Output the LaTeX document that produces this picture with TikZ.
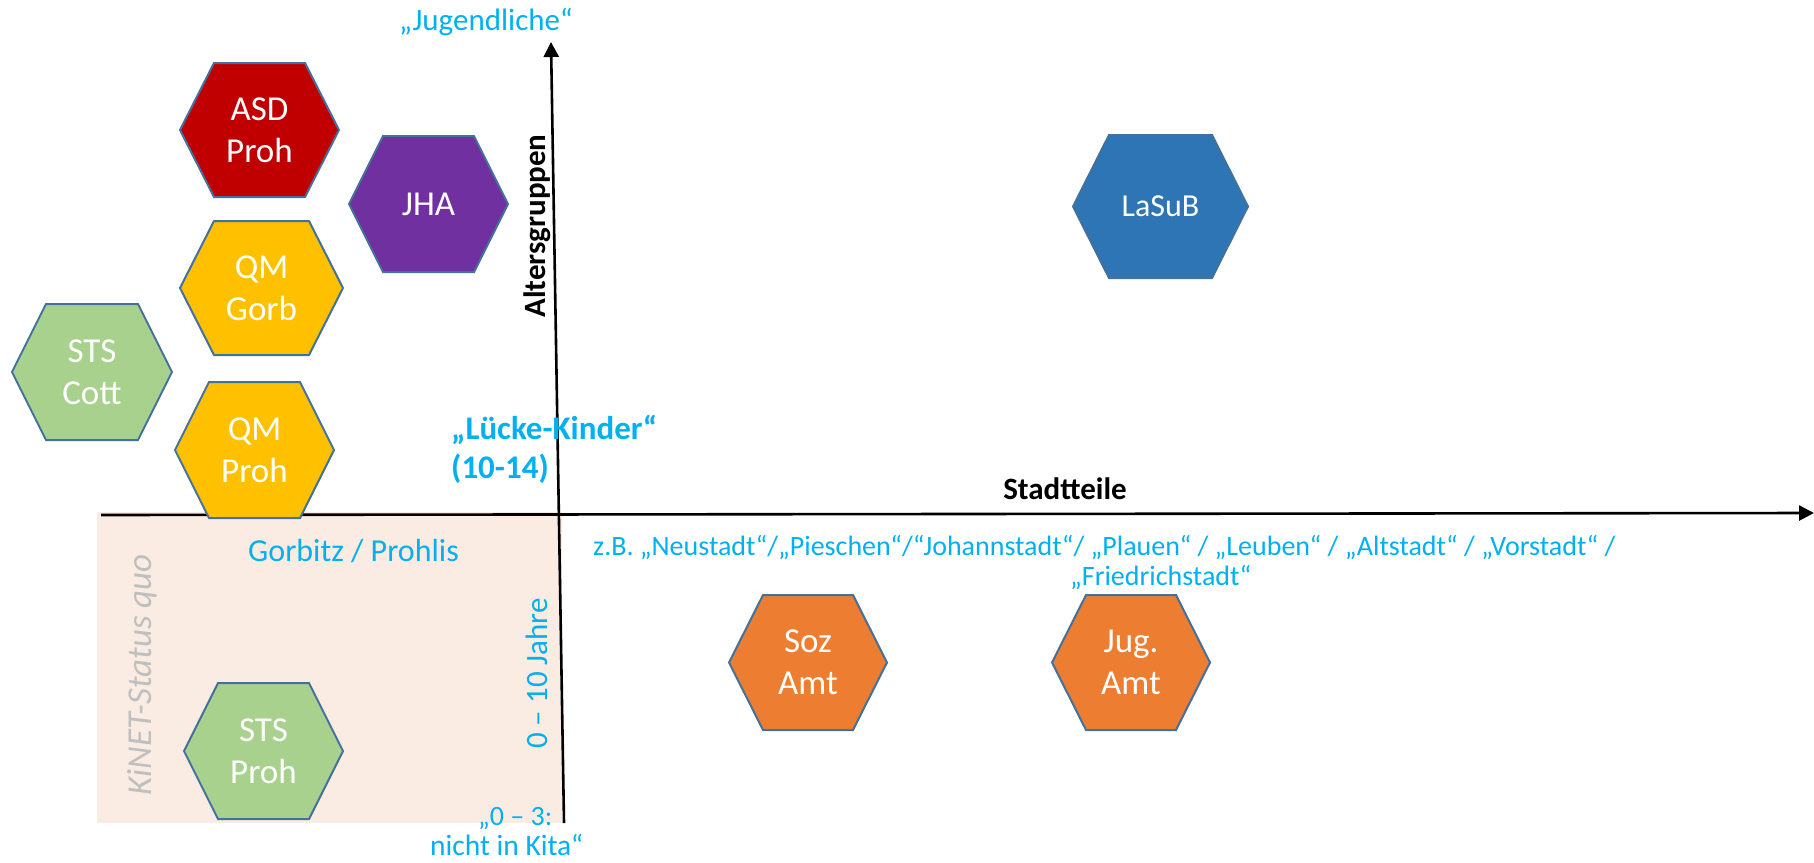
\documentclass[tikz,border=0pt]{standalone}
\usepackage{fontspec}
\setmainfont{Carlito}
\usetikzlibrary{arrows.meta}

\definecolor{asdred}{HTML}{C00000}
\definecolor{jhapurple}{HTML}{7030A0}
\definecolor{qmgold}{HTML}{FFC000}
\definecolor{stsgreen}{HTML}{A9D18E}
\definecolor{lasubblue}{HTML}{2E75B6}
\definecolor{amtorange}{HTML}{ED7D31}
\definecolor{hexline}{HTML}{41719C}
\definecolor{labelblue}{HTML}{00B0F0}
\definecolor{kinetpink}{HTML}{FBECE3}
\definecolor{kinetgray}{HTML}{BFBFBF}

\tikzset{
  hexframe/.style={rectangle, draw=none, inner sep=0pt, outer sep=0pt},
  hexshape/.style={fill=#1, draw=hexline, line width=2pt, line join=miter},
  hextext/.style={text=white, align=center, inner sep=0pt,
    font=\fontsize{35}{42}\selectfont},
  axisline/.style={line width=2.6pt, -{Triangle[length=15pt,width=15pt]}},
  bluelabel/.style={text=labelblue, inner sep=0pt},
  axislabel/.style={text=black, inner sep=0pt, font=\bfseries\fontsize{31}{37}\selectfont},
}

% name, x, y, width, height, chamfer, fill colour, text
\newcommand\hexagonnode[8]{%
  \node[hexframe, minimum width=#4, minimum height=#5] (#1) at (#2,#3) {};
  \path[hexshape=#7] (#1.west) -- ([xshift=#6]#1.north west)
    -- ([xshift=-#6]#1.north east) -- (#1.east)
    -- ([xshift=-#6]#1.south east) -- ([xshift=#6]#1.south west) -- cycle;
  \node[hextext] (#1-text) at (#1.center) {#8};
}

\begin{document}
\begin{tikzpicture}[x=1pt, y=-1pt]
  \useasboundingbox (0,0) rectangle (1814,862);

  % status quo area
  \fill[kinetpink] (97,512) rectangle (562,823);

  % axes
  \coordinate (hleft) at (101,515);
  \coordinate (hright) at (1814,513);
  \coordinate (vbot) at (564,823);
  \coordinate (vtop) at (551,42);
  \draw[axisline] (hleft) -- (hright);
  \draw[axisline] (vbot) -- (vtop);

  % actors
  \hexagonnode{asd}{259.5}{130}{159pt}{134pt}{34pt}{asdred}{ASD\\Proh}
  \hexagonnode{jha}{428.5}{204}{159pt}{136pt}{34pt}{jhapurple}{JHA}
  \hexagonnode{qmgorb}{261.5}{288}{163pt}{134pt}{34pt}{qmgold}{QM\\Gorb}
  \hexagonnode{stscott}{92}{372}{160pt}{136pt}{34pt}{stsgreen}{STS\\Cott}
  \hexagonnode{qmproh}{254.5}{450}{159pt}{136pt}{34pt}{qmgold}{QM\\Proh}
  \hexagonnode{stsproh}{263.5}{751}{159pt}{136pt}{34pt}{stsgreen}{STS\\Proh}
  \hexagonnode{lasub}{1160.5}{206.5}{175pt}{143pt}{36pt}{lasubblue}{\fontsize{32}{38}\selectfont LaSuB}
  \hexagonnode{soz}{808}{662.5}{158pt}{135pt}{34pt}{amtorange}{Soz\\Amt}
  \hexagonnode{jug}{1131}{662.5}{158pt}{135pt}{34pt}{amtorange}{Jug.\\Amt}

  % axis titles
  \node[axislabel, rotate=90, anchor=base] (alter) at (545,226) {Altersgruppen};
  \node[axislabel, anchor=base] (stadt) at (1065,499) {Stadtteile};

  % annotations
  \node[bluelabel, anchor=base west, font=\fontsize{31}{37}\selectfont] (jugend) at (399,30) {„Jugendliche“};
  \node[bluelabel, anchor=base west, font=\bfseries\fontsize{33}{39}\selectfont] (luecke1) at (451,439) {„Lücke-Kinder“};
  \node[bluelabel, anchor=base west, font=\bfseries\fontsize{33}{39}\selectfont] (luecke2) at (451,478) {(10-14)};
  \node[bluelabel, anchor=base west, font=\fontsize{32}{38}\selectfont] (gorbitz) at (248,561) {Gorbitz / Prohlis};
  \node[text=kinetgray, inner sep=0pt, rotate=90, anchor=base, font=\itshape\fontsize{35}{42}\selectfont] (kinet) at (151,675) {KiNET-Status quo};
  \node[bluelabel, rotate=90, anchor=base, font=\fontsize{31}{37}\selectfont] (zehn) at (547,673.5) {0 – 10 Jahre};
  \node[bluelabel, anchor=base west, font=\fontsize{28}{32}\selectfont] (null1) at (478,825) {„0 – 3:};
  \node[bluelabel, anchor=base west, font=\fontsize{29.5}{32}\selectfont] (null2) at (430,855) {nicht in Kita“};
  \node[bluelabel, anchor=base west, font=\fontsize{28}{32}\selectfont] (zb1) at (593,555) {z.B. „Neustadt“/„Pieschen“/“Johannstadt“/ „Plauen“ / „Leuben“ / „Altstadt“ / „Vorstadt“ /};
  \node[bluelabel, anchor=base west, font=\fontsize{28}{32}\selectfont] (zb2) at (1070,585) {„Friedrichstadt“};
\end{tikzpicture}
\end{document}
